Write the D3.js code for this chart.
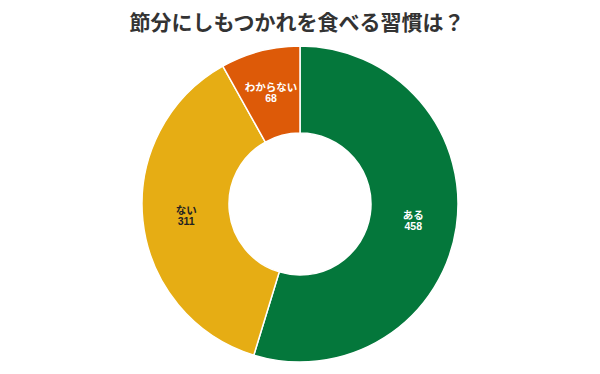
<!DOCTYPE html>
<html><head><meta charset="utf-8">
<script src="https://cdn.jsdelivr.net/npm/d3@7"></script>
<style>body{margin:0;background:#fff}svg{display:block}</style>
</head><body>
<svg id="c" width="600" height="374"></svg>
<script>
const categories = ["ある", "ない", "わからない"];
const values = [458, 311, 68];
const colors = ["#04773b", "#e6ad14", "#dd5a08"];
const labelColors = ["#ffffff", "#222222", "#ffffff"];
const title = "節分にしもつかれを食べる習慣は？";

const svg = d3.select("#c");
const cx = 300, cy = 204, R = 158, r = 71;
svg.append("text").attr("x", 297).attr("y", 30).attr("text-anchor", "middle")
  .attr("font-family", "'Noto Sans CJK JP', sans-serif").attr("font-weight", "bold")
  .attr("font-size", 21).attr("fill", "#333").text(title);

const data = categories.map((c, i) => ({c, v: values[i], i}));
const pie = d3.pie().value(d => d.v).sort(null);
const arc = d3.arc().innerRadius(r).outerRadius(R);
const g = svg.append("g").attr("transform", `translate(${cx},${cy})`);
const arcs = pie(data);
g.selectAll("path").data(arcs).join("path").attr("d", arc)
  .attr("fill", d => colors[d.data.i]).attr("stroke", "#fff").attr("stroke-width", 1.5);
const lab = g.selectAll("g.lab").data(arcs).join("g").attr("class", "lab")
  .attr("transform", d => `translate(${arc.centroid(d)})`)
  .attr("text-anchor", "middle")
  .attr("font-family", "'Liberation Sans', 'Noto Sans CJK JP', sans-serif")
  .attr("font-weight", "bold").attr("font-size", 10.5)
  .attr("fill", d => labelColors[d.data.i]);
lab.append("text").attr("y", -2).text(d => d.data.c);
lab.append("text").attr("y", 9).text(d => d.data.v);
</script>
</body></html>
